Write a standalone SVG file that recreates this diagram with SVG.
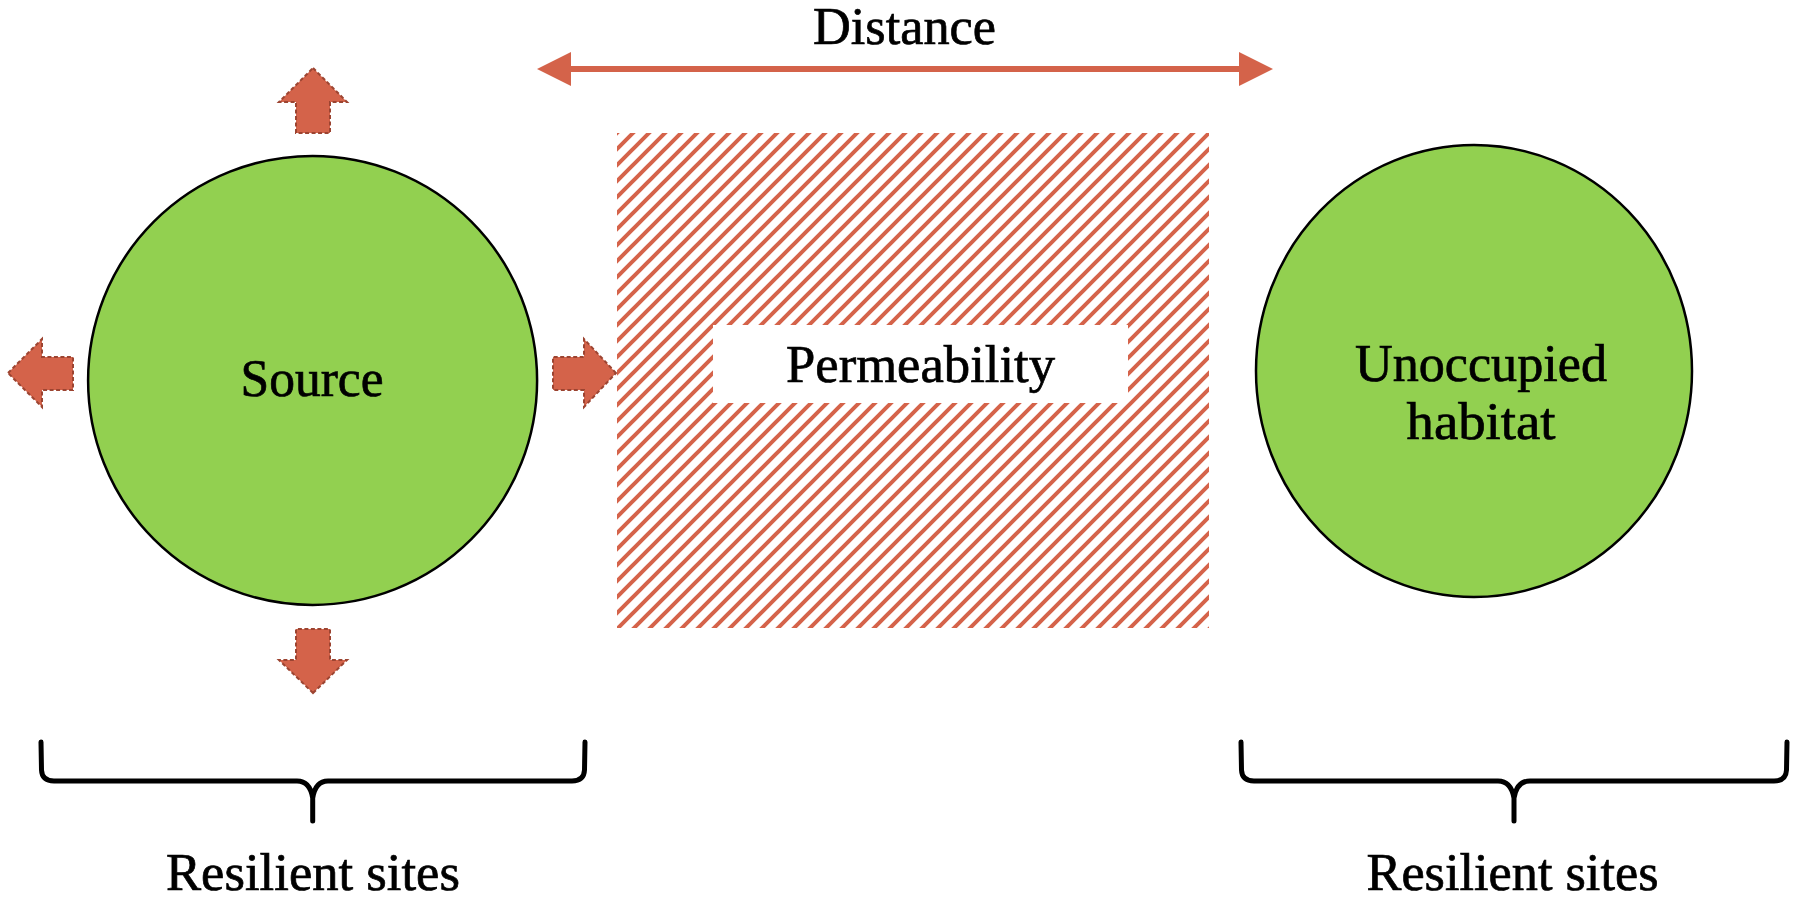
<svg xmlns="http://www.w3.org/2000/svg" width="1796" height="898" viewBox="0 0 1796 898">
<style>
.lbl{font-family:"Liberation Serif","Times New Roman",serif;font-size:52px;fill:#000;stroke:#000;stroke-width:0.7;text-anchor:middle}
.site{fill:#92D050;stroke:#000;stroke-width:2.5}
.blk{fill:#D4634A;stroke:#9C4431;stroke-width:2;stroke-dasharray:4 2.5;stroke-linejoin:miter}
.brace{fill:none;stroke:#000;stroke-width:5;stroke-linecap:round;stroke-linejoin:round}
</style>
<defs>
<pattern id="hatch" patternUnits="userSpaceOnUse" x="617" y="133" width="16" height="16">
<path d="M-4,4 L4,-4 M0,16 L16,0 M12,20 L20,12" stroke="#D5634A" stroke-width="4"/>
</pattern>
</defs>
<rect width="1796" height="898" fill="#fff"/>
<g id="permeability">
<rect x="617" y="133" width="592" height="495" fill="url(#hatch)"/>
<rect x="713" y="325" width="415" height="78" fill="#fff"/>
<text class="lbl" x="920.5" y="382" textLength="269" lengthAdjust="spacingAndGlyphs">Permeability</text>
</g>
<g id="source">
<circle class="site" cx="312.6" cy="380.4" r="224.5"/>
<text class="lbl" x="312" y="396" textLength="143" lengthAdjust="spacingAndGlyphs">Source</text>
</g>
<g id="unoccupied">
<ellipse class="site" cx="1474" cy="371" rx="218" ry="226"/>
<text class="lbl" x="1481" y="381" textLength="252" lengthAdjust="spacingAndGlyphs">Unoccupied</text>
<text class="lbl" x="1481" y="439" textLength="149" lengthAdjust="spacingAndGlyphs">habitat</text>
</g>
<g id="dispersal-arrows">
<polygon class="blk" points="313,68 347,102 330,102 330,133 296,133 296,102 279,102"/>
<polygon class="blk" points="313,693 347,660 330,660 330,629 296,629 296,660 279,660"/>
<polygon class="blk" points="8,373 42,339 42,357 73,357 73,390 42,390 42,407"/>
<polygon class="blk" points="616,373 584,339 584,357 553,357 553,390 584,390 584,407"/>
</g>
<g id="connectors">
<line x1="565" y1="69" x2="1245" y2="69" stroke="#D4634A" stroke-width="6"/>
<polygon points="537,69 571,52 571,86" fill="#D4634A"/>
<polygon points="1273,69 1239,52 1239,86" fill="#D4634A"/>
</g>
<g id="distance-label">
<text class="lbl" x="904.5" y="44" textLength="183" lengthAdjust="spacingAndGlyphs">Distance</text>
</g>
<g id="brace-left">
<path class="brace" d="M41,742 L41.5,770 Q42,781 54,781 L297,781 Q310,781 312.7,798 L312.7,821 M312.7,798 Q315.4,781 328,781 L572,781 Q584,781 584.5,770 L585,742"/>
<text class="lbl" x="313" y="890" textLength="294" lengthAdjust="spacingAndGlyphs">Resilient sites</text>
</g>
<g id="brace-right">
<path class="brace" d="M1241,742 L1241.5,770 Q1242,781 1254,781 L1498,781 Q1511,781 1514,798 L1514,821 M1514,798 Q1517,781 1530,781 L1774,781 Q1786,781 1786.5,770 L1787,742"/>
<text class="lbl" x="1512.5" y="890" textLength="292" lengthAdjust="spacingAndGlyphs">Resilient sites</text>
</g>
</svg>
